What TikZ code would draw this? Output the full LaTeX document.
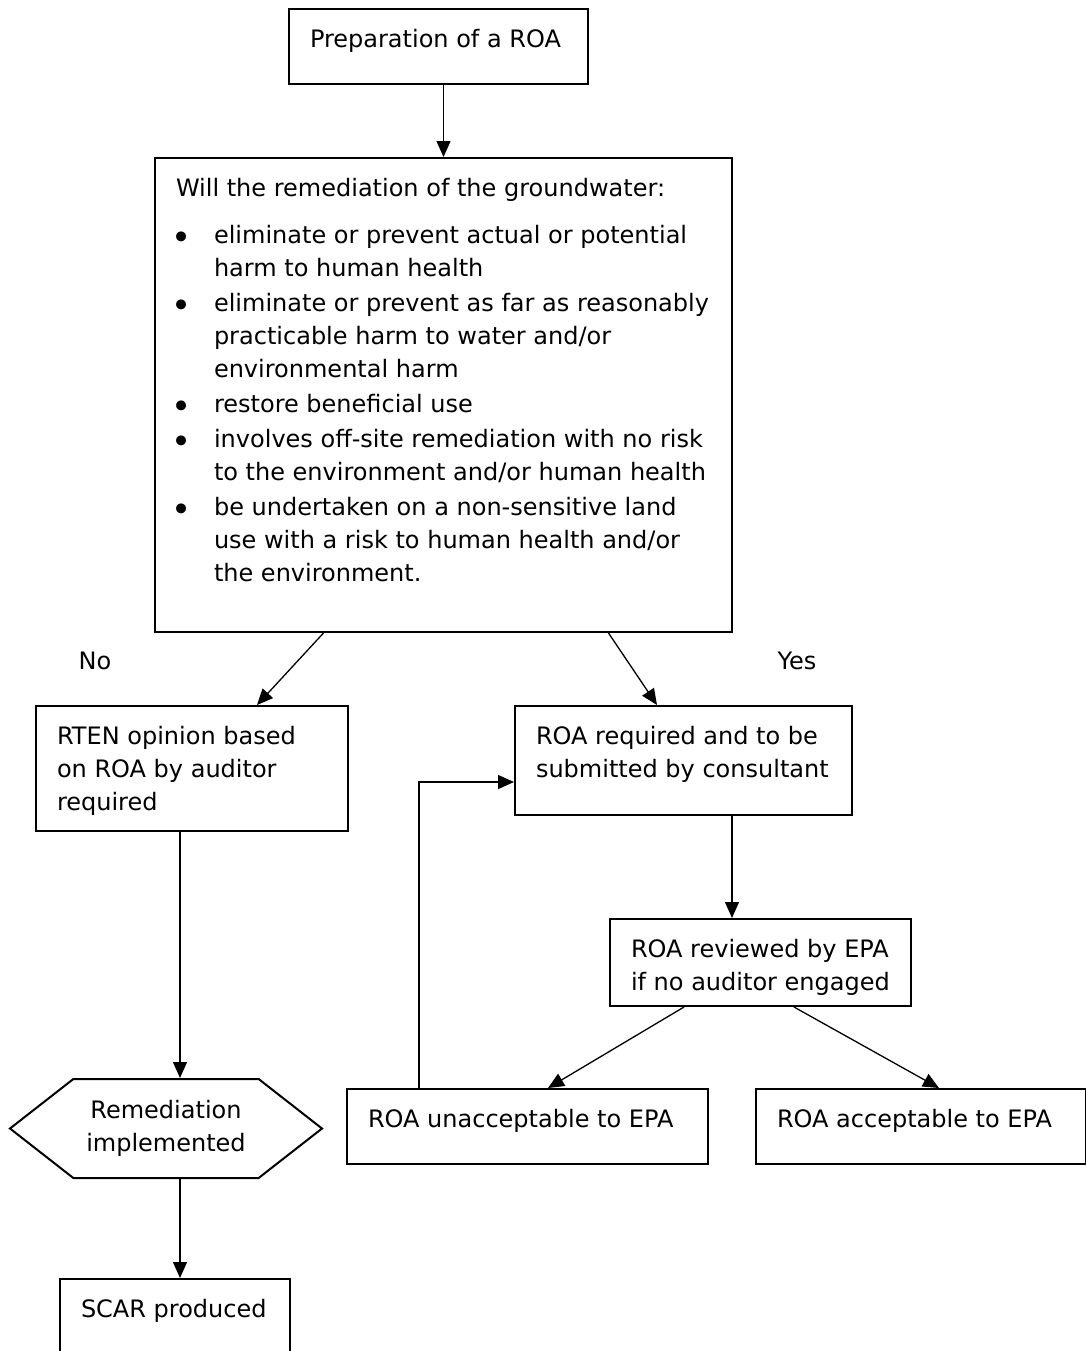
\documentclass[tikz,border=0pt]{standalone}
\usepackage{fontspec}
\setmainfont{DejaVu Sans}
\usetikzlibrary{arrows.meta,shapes.symbols}

% fixed-size, top-aligned box text
\newcommand{\boxtext}[3]{\parbox[t][#2][t]{#1}{\raggedright\strut #3}}
\newcommand{\roabullet}{\raisebox{-3pt}{\fontsize{17pt}{17pt}\selectfont\textbullet}}
\newenvironment{roalist}{\begin{list}{\roabullet}{%
  \setlength{\leftmargin}{19pt}\setlength{\labelwidth}{10pt}%
  \setlength{\labelsep}{11pt}\setlength{\itemsep}{1pt}%
  \setlength{\parsep}{0pt}\setlength{\topsep}{7pt}%
  \setlength{\partopsep}{0pt}}}{\end{list}}

\tikzset{
  box/.style={draw, line width=1pt, rectangle, anchor=north west,
    inner xsep=10.5pt, inner ysep=7.5pt},
  hexbox/.style={draw, line width=1pt, signal, signal to=west and east,
    signal pointer angle=76, minimum width=156pt, minimum height=49.5pt,
    align=center, inner sep=2pt},
  flow/.style={-{Triangle[length=8pt,width=7pt]}, line width=0.65pt}
}

\begin{document}
\begin{tikzpicture}[x=0.5pt, y=-0.5pt, font=\fontsize{12pt}{16.5pt}\selectfont]
  \useasboundingbox (0,0) rectangle (1086,1351);

  \node[box] (prep) at (288,8) {\boxtext{128.5pt}{22.5pt}{Preparation of a ROA}};
  \node[box] (quest) at (154,157) {\boxtext{267.5pt}{222pt}{%
    Will the remediation of the groundwater:
    \begin{roalist}
      \item \mbox{eliminate or prevent actual or potential}\newline harm to human health
      \item \mbox{eliminate or prevent as far as reasonably}\newline practicable harm to water and/or\newline environmental harm
      \item restore beneficial use
      \item \mbox{involves off-site remediation with no risk}\newline \mbox{to the environment and/or human health}
      \item be undertaken on a non-sensitive land\newline \mbox{use with a risk to human health and/or}\newline the environment.
    \end{roalist}}};
  \node (no) at (95,661) {No};
  \node (yes) at (797,661) {Yes};
  \node[box] (rten) at (35,705) {\boxtext{135pt}{47.5pt}{RTEN opinion based\\on ROA by auditor\\required}};
  \node[box] (roareq) at (514,705) {\boxtext{147.5pt}{39.5pt}{ROA required and to be\\submitted by consultant}};
  \node[box] (review) at (609,918) {\boxtext{129.5pt}{28.5pt}{ROA reviewed by EPA\\if no auditor engaged}};
  \node[box] (unacc) at (346,1088) {\boxtext{159.5pt}{22.5pt}{ROA unacceptable to EPA}};
  \node[box] (acc) at (755,1088) {\boxtext{144pt}{22.5pt}{ROA acceptable to EPA}};
  \node[hexbox] (hex) at (166,1128.5) {Remediation\\implemented};
  \node[box] (scar) at (59,1278) {\boxtext{94pt}{30pt}{SCAR produced}};

  \draw[flow] (prep.south -| quest.north) -- (quest.north);
  \draw[flow] ([xshift=-60pt]quest.south) -- ([xshift=32.5pt]rten.north);
  \draw[flow] ([xshift=82.5pt]quest.south) -- ([xshift=-13.25pt]roareq.north);
  \draw[flow] ([xshift=24.25pt]roareq.south) -- ([xshift=24.25pt]roareq.south |- review.north);
  \draw[flow] ([xshift=-38.25pt]review.south) -- ([xshift=10.25pt]unacc.north);
  \draw[flow] ([xshift=16.75pt]review.south) -- ([xshift=9pt]acc.north);
  \draw[flow] ([xshift=-54.25pt]unacc.north) |- ([yshift=-10.75pt]roareq.west);
  \draw[flow] ([xshift=-6pt]rten.south) -- ([xshift=-6pt]rten.south |- hex.north);
  \draw[flow] ([xshift=-6pt]rten.south |- hex.south) -- ([xshift=-6pt]rten.south |- scar.north);
\end{tikzpicture}
\end{document}
